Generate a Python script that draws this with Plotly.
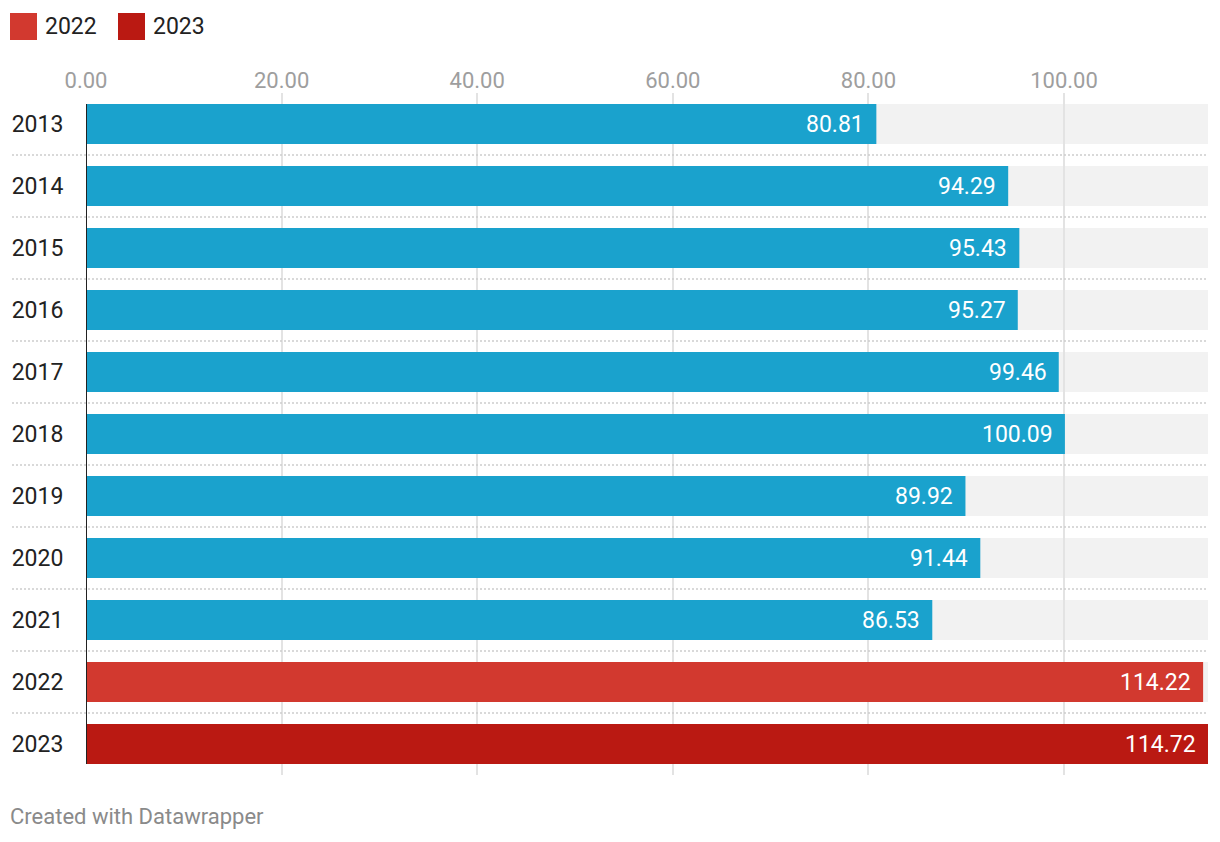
import plotly.graph_objects as go

years = ["2013", "2014", "2015", "2016", "2017", "2018", "2019", "2020", "2021", "2022", "2023"]
values = [80.81, 94.29, 95.43, 95.27, 99.46, 100.09, 89.92, 91.44, 86.53, 114.22, 114.72]
bar_colors = ["#1aa2cd"] * 9 + ["#d2392f", "#ba1912"]
legend_names = ["2022", "2023"]
legend_colors = ["#d2392f", "#ba1912"]
x_ticks = [0, 20, 40, 60, 80, 100]

FONT = "Roboto"
BAR_W = 0.645
xmax = max(values)

fig = go.Figure()
fig.add_trace(go.Bar(
    y=years, x=values, orientation="h",
    marker=dict(color=bar_colors, line=dict(width=0)),
    width=BAR_W, showlegend=False, hoverinfo="x+y",
))

shapes = []
annotations = []
# background tracks
for i, _ in enumerate(years):
    shapes.append(dict(type="rect", xref="x", yref="y", x0=0, x1=xmax,
                       y0=i - BAR_W / 2, y1=i + BAR_W / 2,
                       fillcolor="#f2f2f2", line=dict(width=0), layer="below"))
# dotted row separators
for i in range(len(years) - 1):
    shapes.append(dict(type="line", xref="paper", yref="y", x0=-74 / 1122, x1=1,
                       y0=i + 0.5, y1=i + 0.5,
                       line=dict(color="#cdcdcd", width=1.5, dash="2px,2px"), layer="above"))
# zero baseline
shapes.append(dict(type="line", xref="x", yref="y", x0=0, x1=0,
                   y0=-BAR_W / 2, y1=len(years) - 1 + BAR_W / 2,
                   line=dict(color="#222222", width=2), layer="above"))

# value labels
for i, v in enumerate(values):
    annotations.append(dict(x=v, y=i, xref="x", yref="y", text=f"{v:.2f}",
                            xanchor="right", yanchor="middle", xshift=-10, showarrow=False,
                            font=dict(family=FONT, size=23, color="white")))

# legend
lx = [10, 118]
for name, col, x0 in zip(legend_names, legend_colors, lx):
    shapes.append(dict(type="rect", xref="paper", yref="paper",
                       x0=(x0 - 86) / 1122, x1=(x0 + 27 - 86) / 1122,
                       y0=(775 - 40) / 682, y1=(775 - 13) / 682,
                       fillcolor=col, line=dict(width=0)))
    annotations.append(dict(x=(x0 + 33 - 86) / 1122, y=(775 - 26.5) / 682, xref="paper", yref="paper",
                            text=name, xanchor="left", yanchor="middle", showarrow=False,
                            font=dict(family=FONT, size=23, color="#222222")))

# footer
annotations.append(dict(x=(8 - 86) / 1122, y=(775 - 816) / 682, xref="paper", yref="paper",
                        text="Created with Datawrapper", xanchor="left", yanchor="middle",
                        showarrow=False, font=dict(family=FONT, size=22, color="#8a8a8a")))

fig.update_layout(
    width=1220, height=842,
    margin=dict(l=86, r=12, t=93, b=67, autoexpand=False),
    paper_bgcolor="white", plot_bgcolor="white",
    font=dict(family=FONT, size=23, color="#222222"),
    shapes=shapes, annotations=annotations,
    bargap=1 - BAR_W,
    xaxis=dict(side="top", range=[0, xmax], tickvals=x_ticks, tickformat=".2f",
               showgrid=True, gridcolor="#e3e3e3", gridwidth=2, zeroline=False,
               showline=False, ticks="", tickfont=dict(family=FONT, size=22, color="#9e9e9e"),
               ticklabelstandoff=0, fixedrange=True, automargin=False),
    yaxis=dict(type="category", categoryorder="array", categoryarray=years,
               range=[len(years) - 0.5, -0.5], showgrid=False, zeroline=False, showline=False,
               ticks="outside", ticklen=17, tickcolor="rgba(0,0,0,0)",
               tickfont=dict(family=FONT, size=23, color="#222222"), fixedrange=True,
               automargin=False),
    showlegend=False,
)

fig.write_html("out.html", config={"displayModeBar": False},
               post_script="document.body.style.margin='0';document.body.style.overflow='hidden';")
